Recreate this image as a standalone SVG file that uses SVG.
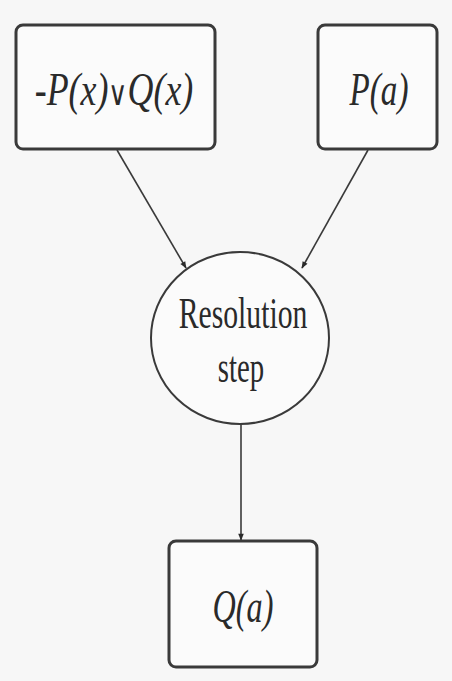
<svg xmlns="http://www.w3.org/2000/svg" width="452" height="681" viewBox="0 0 452 681">
  <defs>
    <style>
      .box { fill: #fbfbfb; stroke: #3a3a3a; stroke-width: 3; }
      .node-circle { fill: #fbfbfb; stroke: #3a3a3a; stroke-width: 2; }
      .edge { stroke: #3a3a3a; stroke-width: 1.6; fill: none; marker-end: url(#arrow); }
    </style>
    <marker id="arrow" viewBox="0 0 10 10" refX="9" refY="5" markerWidth="11" markerHeight="7" markerUnits="userSpaceOnUse" orient="auto">
      <path d="M0,1 L10,5 L0,9 Z" fill="#2a2a2a"/>
    </marker>
  </defs>

  <rect x="0" y="0" width="452" height="681" fill="#f7f7f7"/>

  <g id="connectors">
    <line class="edge" x1="117" y1="150" x2="186" y2="268"/>
    <line class="edge" x1="368" y1="150" x2="302" y2="268"/>
    <line class="edge" x1="241" y1="424" x2="241" y2="540"/>
  </g>

  <g id="node-clause">
    <rect class="box" x="16" y="25" width="199" height="124" rx="7"/>
    <text font-family="Liberation Serif, serif" font-style="italic" font-size="46" fill="#2a2a2a" text-anchor="middle" transform="translate(114,105) scale(0.78,1)">-P(x)<tspan font-family="DejaVu Sans, sans-serif" font-style="normal" font-size="34" font-weight="200">∨</tspan>Q(x)</text>
  </g>

  <g id="node-fact">
    <rect class="box" x="318" y="25" width="119" height="124" rx="7"/>
    <text font-family="Liberation Serif, serif" font-style="italic" font-size="46" fill="#2a2a2a" text-anchor="middle" transform="translate(379,105) scale(0.72,1)">P(a)</text>
  </g>

  <g id="node-resolution">
    <ellipse class="node-circle" cx="240" cy="338" rx="89" ry="86"/>
    <text font-family="Liberation Serif, serif" font-size="45" fill="#2a2a2a" text-anchor="middle" transform="translate(243,328) scale(0.66,1)">Resolution</text>
    <text font-family="Liberation Serif, serif" font-size="45" fill="#2a2a2a" text-anchor="middle" transform="translate(241,382) scale(0.64,1)">step</text>
  </g>

  <g id="node-result">
    <rect class="box" x="169" y="541" width="148" height="126" rx="7"/>
    <text font-family="Liberation Serif, serif" font-style="italic" font-size="46" fill="#2a2a2a" text-anchor="middle" transform="translate(243,622) scale(0.7,1)">Q(a)</text>
  </g>
</svg>
